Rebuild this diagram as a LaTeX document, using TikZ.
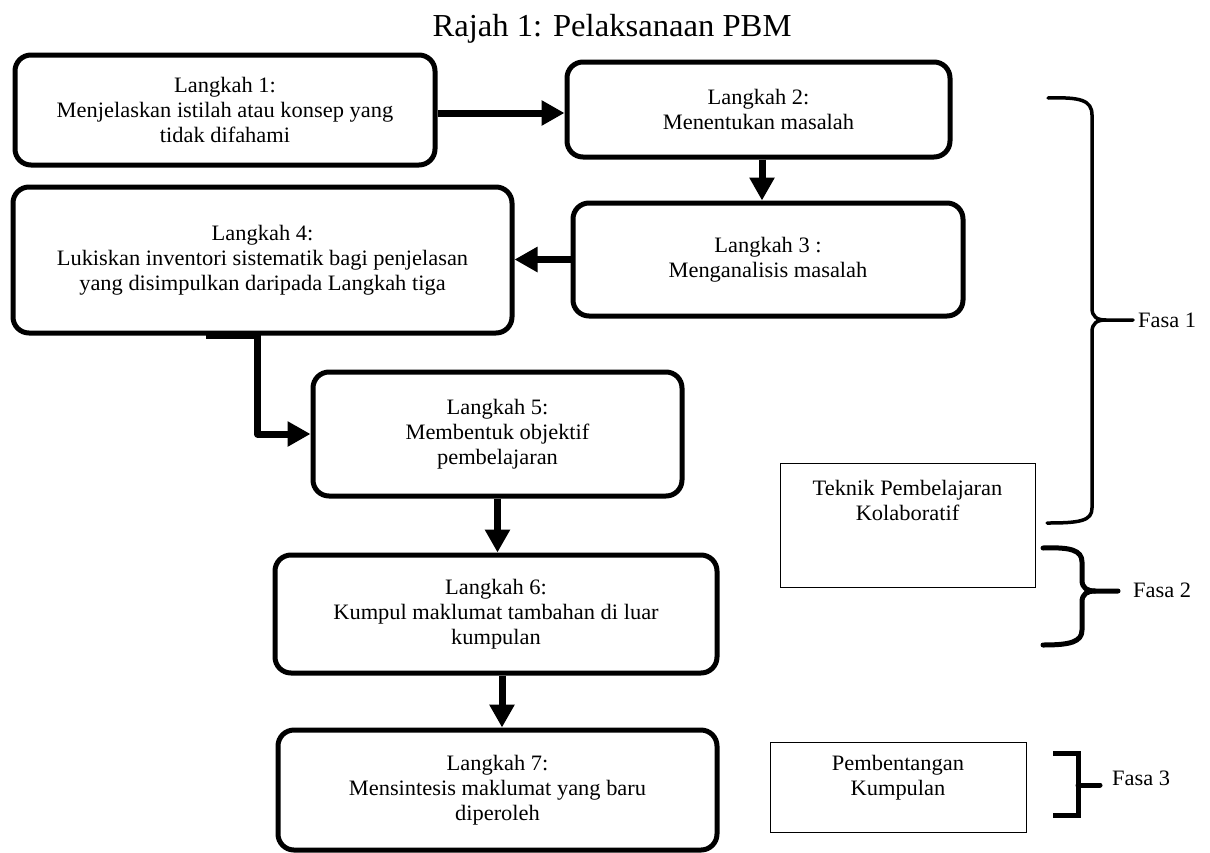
\documentclass[tikz,border=0pt]{standalone}
\usepackage{fontspec}
\setmainfont{Liberation Serif}[FakeStretch=1.02]
\usetikzlibrary{arrows.meta,calc}
\begin{document}
\begin{tikzpicture}[x=1pt,y=-1pt,
  stepbox/.style={draw, line width=5pt, rounded corners=16pt, align=center,
    font=\fontsize{22}{25}\selectfont, inner sep=0pt, fill=white},
  plainbox/.style={draw, line width=1pt, inner sep=0pt},
  txt/.style={align=center, font=\fontsize{22}{25}\selectfont, inner sep=0pt},
  arr/.style={line width=7pt, -{Triangle[length=23pt,width=24pt]}, line join=round},
  bracef/.style={line width=3.5pt, line cap=round, line join=round},
  braceg/.style={line width=5pt, line cap=round, line join=round}]
\useasboundingbox (0,0) rectangle (1210,852);

\node[font=\fontsize{32}{36}\selectfont, inner sep=0pt] (title) at (612,29) {Rajah 1: Pelaksanaan PBM};

\node[stepbox, minimum width=420pt, minimum height=110pt] (b1) at (225,110)
  {Langkah 1:\\Menjelaskan istilah atau konsep yang\\tidak difahami};
\node[stepbox, minimum width=383pt, minimum height=95pt] (b2) at (758.5,109.5)
  {Langkah 2:\\Menentukan masalah};
\node[stepbox, minimum width=390pt, minimum height=113pt] (b3) at (768,259.5)
  {Langkah 3 :\\Menganalisis masalah};
\node[stepbox, minimum width=499pt, minimum height=146pt] (b4) at (262.5,260)
  {Langkah 4:\\Lukiskan inventori sistematik bagi penjelasan\\yang disimpulkan daripada Langkah tiga};
\node[stepbox, minimum width=369pt, minimum height=124pt] (b5) at (497.5,434)
  {Langkah 5:\\Membentuk objektif\\pembelajaran};
\node[stepbox, minimum width=442pt, minimum height=118pt] (b6) at (496,614)
  {Langkah 6:\\Kumpul maklumat tambahan di luar\\kumpulan};
\node[stepbox, minimum width=439pt, minimum height=120pt] (b7) at (497.5,790)
  {Langkah 7:\\Mensintesis maklumat yang baru\\diperoleh};

\node[plainbox, minimum width=255pt, minimum height=124pt] (tek) at (907.5,525) {};
\node[txt] (tekt) at (907.5,500) {Teknik Pembelajaran\\Kolaboratif};
\node[plainbox, minimum width=256pt, minimum height=90pt] (pem) at (898,787) {};
\node[txt] (pemt) at (898,778) {Pembentangan\\Kumpulan};

% connectors
\coordinate (s12) at ($(b1.east)+(0,3)$);
\draw[arr] (s12) -- (s12 -| b2.west);
\coordinate (s23) at ($(b2.south)+(3.5,0)$);
\draw[arr] (s23) -- (s23 |- b3.north);
\draw[arr] (b3.west) -- (b3.west -| b4.east);
\coordinate (s45) at ($(b4.south)+(-57,0)$);
\draw[arr] (s45) -- ++(52,0) |- (b5.west);
\draw[arr] (b5.south) -- (b5.south |- b6.north);
\coordinate (s67) at ($(b6.south)+(6,0)$);
\draw[arr] (s67) -- (s67 |- b7.north);

% Fasa 1 brace
\draw[bracef] (1048,98) .. controls (1080,97) and (1092,100) .. (1092,115) -- (1092,308)
  .. controls (1092,317) and (1097,320) .. (1106,320) -- (1133,320);
\draw[bracef] (1106,320) .. controls (1097,320) and (1092,323) .. (1092,332) -- (1092,508)
  .. controls (1092,521) and (1080,523) .. (1047,523);
\node[txt, anchor=west] (f1) at (1138,320) {Fasa 1};

% Fasa 2 brace
\draw[braceg] (1043,548) .. controls (1070,547) and (1082,550) .. (1082,562) -- (1082,580)
  .. controls (1082,588) and (1087,591) .. (1095,591) -- (1118,591);
\draw[braceg] (1095,591) .. controls (1087,591) and (1082,594) .. (1082,602) -- (1082,630)
  .. controls (1082,642) and (1070,645) .. (1043,645);
\node[txt, anchor=west] (f2) at (1133,590) {Fasa 2};

% Fasa 3 bracket
\draw[line width=5pt] (1053,753) -- (1078,753) -- (1078,815) -- (1053,815);
\draw[line width=5pt, line cap=round] (1078,785) -- (1100,785);
\node[txt, anchor=west] (f3) at (1112,778) {Fasa 3};
\end{tikzpicture}
\end{document}
